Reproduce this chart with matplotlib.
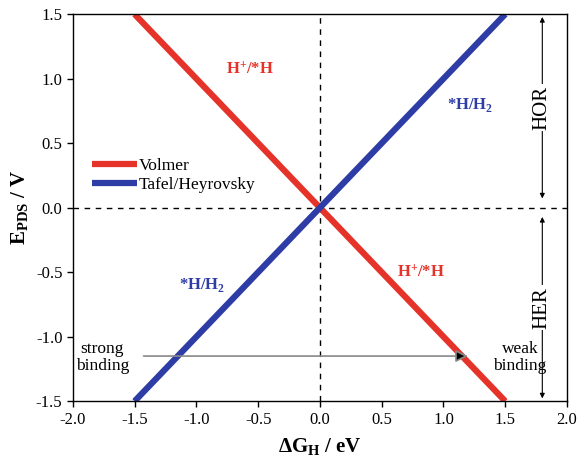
import numpy as np
import matplotlib.pyplot as plt

plt.rcParams['font.family'] = ['Liberation Serif', 'DejaVu Serif']
plt.rcParams['mathtext.fontset'] = 'custom'
plt.rcParams['mathtext.rm'] = 'Liberation Serif'
plt.rcParams['mathtext.bf'] = 'Liberation Serif:bold'

# data
dg = [-1.5, 1.5]
volmer = [1.5, -1.5]
tafel = [-1.5, 1.5]
xticks = [-2.0, -1.5, -1.0, -0.5, 0.0, 0.5, 1.0, 1.5, 2.0]
yticks = [-1.5, -1.0, -0.5, 0.0, 0.5, 1.0, 1.5]

red = '#e63329'
blue = '#2e3da6'

fig = plt.figure(figsize=(5.78, 4.58), dpi=100)
ax = fig.add_axes([0.126, 0.124, 0.855, 0.845])

ax.axvline(0, color='black', lw=1, ls=(0, (4, 4)))
ax.axhline(0, color='black', lw=1, ls=(0, (4, 4)))

ax.plot(dg, volmer, color=red, lw=4.5, label='Volmer', solid_capstyle='butt')
ax.plot(dg, tafel, color=blue, lw=4.5, label='Tafel/Heyrovsky', solid_capstyle='butt')

ax.set_xlim(-2, 2)
ax.set_ylim(-1.5, 1.5)
ax.set_xticks(xticks)
ax.set_yticks(yticks)
ax.set_xticklabels([f'{v:.1f}' for v in xticks])
ax.set_yticklabels([f'{v:.1f}' for v in yticks])
ax.tick_params(direction='out', labelsize=12, length=4, width=1)
for s in ax.spines.values():
    s.set_linewidth(1)

ax.set_xlabel(r'$\mathbf{\Delta G_{H}}$ / eV', fontsize=15, fontweight='bold', labelpad=6)
ax.set_ylabel(r'$\mathbf{E_{PDS}}$ / V', fontsize=15, fontweight='bold', labelpad=4)

# reaction labels
ax.text(-0.57, 1.07, r'$\mathbf{H^{+}}$/*H', color=red, fontsize=12, fontweight='bold', ha='center', va='center')
ax.text(0.82, -0.5, r'$\mathbf{H^{+}}$/*H', color=red, fontsize=12, fontweight='bold', ha='center', va='center')
ax.text(1.22, 0.8, r'*H/H$_\mathbf{2}$', color=blue, fontsize=12, fontweight='bold', ha='center', va='center')
ax.text(-0.95, -0.6, r'*H/H$_\mathbf{2}$', color=blue, fontsize=12, fontweight='bold', ha='center', va='center')

# binding arrow
ax.annotate('', xy=(1.22, -1.15), xytext=(-1.45, -1.15),
            arrowprops=dict(arrowstyle='-|>', color='#888888', lw=1.2,
                            mutation_scale=18, fc='black', ec='#888888'))
ax.text(-1.76, -1.16, 'strong\nbinding', fontsize=12.5, ha='center', va='center', linespacing=1.05)
ax.text(1.62, -1.16, 'weak\nbinding', fontsize=12.5, ha='center', va='center', linespacing=1.05)

# HOR / HER arrows
for y0, y1, lab in [(0.05, 1.5, 'HOR'), (-0.05, -1.5, 'HER')]:
    ax.annotate('', xy=(1.8, y1), xytext=(1.8, y0),
                arrowprops=dict(arrowstyle='<|-|>', color='black', lw=0.8,
                                mutation_scale=7))
    ax.text(1.8, (y0 + y1) / 2, lab, rotation=90, fontsize=15, ha='center', va='center',
            bbox=dict(facecolor='white', edgecolor='none', pad=1))

leg = ax.legend(loc='upper left', bbox_to_anchor=(0.01, 0.665), frameon=False,
                fontsize=12.5, handlelength=2.6, handletextpad=0.1, labelspacing=0.15,
                borderaxespad=0.4)

fig.savefig('out.png', dpi=100)
